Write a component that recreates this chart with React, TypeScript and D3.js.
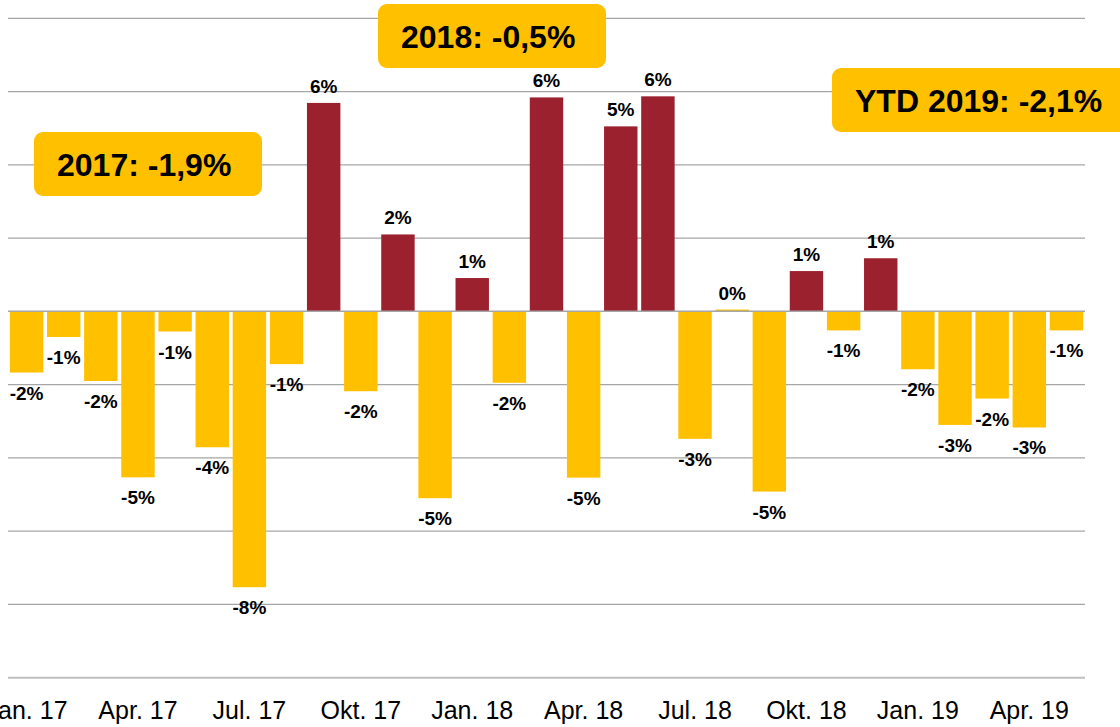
import React from "react";
import * as d3 from "d3";

const months: string[] = [
  "Jan. 17", "Feb. 17", "Mär. 17", "Apr. 17", "Mai. 17", "Jun. 17", "Jul. 17", "Aug. 17", "Sep. 17", "Okt. 17", "Nov. 17", "Dez. 17",
  "Jan. 18", "Feb. 18", "Mär. 18", "Apr. 18", "Mai. 18", "Jun. 18", "Jul. 18", "Aug. 18", "Sep. 18", "Okt. 18", "Nov. 18", "Dez. 18",
  "Jan. 19", "Feb. 19", "Mär. 19", "Apr. 19", "Mai. 19",
];

const values: number[] = [
  -1.67, -0.7, -1.9, -4.53, -0.55, -3.71, -7.53, -1.44, 5.69, -2.18, 2.1, -5.1,
  0.91, -1.95, 5.84, -4.54, 5.05, 5.87, -3.48, 0.05, -4.92, 1.1, -0.52, 1.45,
  -1.58, -3.1, -2.38, -3.17, -0.52,
];

const gridTicks: number[] = [-10, -8, -6, -4, -2, 0, 2, 4, 6, 8];

const annotations: { text: string; x0: number; x1: number; y0: number; y1: number }[] = [
  { text: "2017: -1,9%", x0: 34, x1: 262, y0: 132, y1: 196 },
  { text: "2018: -0,5%", x0: 378, x1: 606, y0: 4, y1: 68 },
  { text: "YTD 2019: -2,1%", x0: 832, x1: 1135, y0: 68, y1: 132 },
];

const RED = "#9C212E";
const YELLOW = "#FFC000";

function fmt(v: number): string {
  const r = Math.round(Math.abs(v));
  return (v < 0 && r !== 0 ? "-" : "") + r + "%";
}

export default function App() {
  const W = 1120;
  const H = 727;
  const x = d3
    .scaleBand<number>()
    .domain(values.map((_, i) => i))
    .range([8, 1085])
    .paddingInner(0.1)
    .paddingOuter(0.05);
  const y = d3.scaleLinear().domain([-10, 8]).range([677.7, 18.3]);
  const y0 = y(0);

  return (
    <div style={{ position: "fixed", left: 0, top: 0, width: W, height: H, background: "#fff" }}>
      <svg width={W} height={H} style={{ display: "block", fontFamily: "'Liberation Sans', Arial, sans-serif" }}>
        {gridTicks
          .filter((t) => t !== 0)
          .map((t) => (
            <line
              key={t}
              x1={8}
              x2={1085}
              y1={y(t)}
              y2={y(t)}
              stroke={t === -10 ? "#BFBFBF" : "#A6A6A6"}
              strokeWidth={t === -10 ? 2 : 1.3}
            />
          ))}
        {values.map((v, i) => (
          <rect
            key={i}
            x={x(i)}
            width={x.bandwidth()}
            y={Math.min(y(v), y0)}
            height={Math.abs(y(v) - y0)}
            fill={v > 0.1 ? RED : YELLOW}
          />
        ))}
        <line x1={8} x2={1085} y1={y0} y2={y0} stroke="#A6A6A6" strokeWidth={1.5} />
        {values.map((v, i) => (
          <text
            key={"l" + i}
            x={(x(i) as number) + x.bandwidth() / 2}
            y={v >= 0 ? y(v) - 10 : y(v) + 27}
            textAnchor="middle"
            fontSize={19}
            fontWeight="bold"
            fill="#000"
          >
            {fmt(v)}
          </text>
        ))}
        {months.map((m, i) =>
          i % 3 === 0 ? (
            <text
              key={"m" + i}
              x={(x(i) as number) + x.bandwidth() / 2}
              y={719}
              textAnchor="middle"
              fontSize={25}
              fill="#000"
            >
              {m}
            </text>
          ) : null
        )}
        {annotations.map((a) => (
          <g key={a.text}>
            <rect x={a.x0} y={a.y0} width={a.x1 - a.x0} height={a.y1 - a.y0} rx={9} ry={9} fill={YELLOW} />
            <text x={a.x0 + 23} y={a.y1 - 20} fontSize={32} fontWeight="bold" fill="#000">
              {a.text}
            </text>
          </g>
        ))}
      </svg>
    </div>
  );
}
